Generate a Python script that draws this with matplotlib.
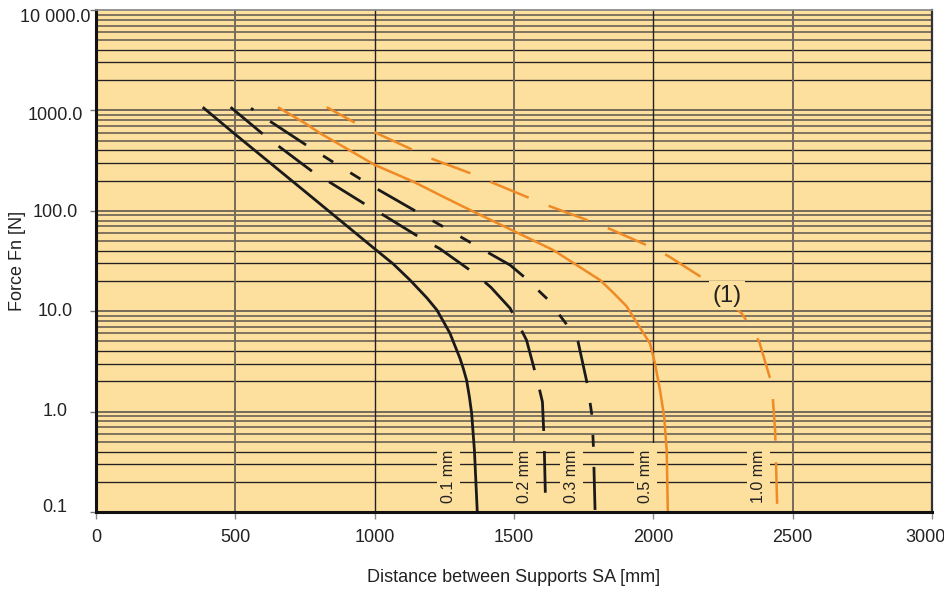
import matplotlib
matplotlib.use("Agg")
import matplotlib.pyplot as plt
from matplotlib.patches import Rectangle
from matplotlib.ticker import NullLocator
from matplotlib.transforms import blended_transform_factory, offset_copy

plt.rcParams['font.family'] = ['Liberation Sans', 'DejaVu Sans']
plt.rcParams['lines.scale_dashes'] = False

# Permissible force Fn [N] over support distance SA [mm], one curve per deflection
sa_01 = [383, 502, 752, 1001, 1067, 1127, 1187, 1223, 1252, 1270, 1306, 1318, 1330,
         1340, 1348, 1358, 1368, 1369]
fn_01 = [1076, 570, 154, 41.6, 29.5, 20.4, 13.6, 10.3, 7.43, 6.04, 3.40, 2.69, 2.05,
         1.40, 0.96, 0.41, 0.103, 0.1]

sa_02 = [483, 595, 654, 780, 842, 975, 1037, 1171, 1234, 1362, 1417, 1486, 1512,
         1545, 1585, 1602, 1608, 1614]
fn_02 = [1076, 593, 443, 242, 190, 112, 88.7, 52.4, 41.9, 23.4, 17.3, 10.7, 7.78,
         5.15, 1.98, 1.25, 0.523, 0.1]

sa_03 = [556, 621, 750, 848, 947, 1007, 1145, 1246, 1345, 1408, 1486, 1536, 1620,
         1689, 1730, 1763, 1780, 1785, 1791]
fn_03 = [1051, 791, 460, 309, 209, 166, 100, 69.4, 48.1, 38.2, 28.8, 22.0, 13.2,
         7.38, 4.95, 1.88, 0.906, 0.445, 0.1]

sa_05 = [653, 750, 804, 1001, 1139, 1246, 1342, 1504, 1641, 1809, 1856, 1904, 1950,
         1988, 2006, 2024, 2039, 2048, 2052]
fn_05 = [1076, 745, 593, 286, 195, 138, 102, 62, 40.6, 20.4, 15.3, 11.2, 7.0,
         4.77, 3.01, 1.63, 0.885, 0.41, 0.1]

sa_10 = [828, 929, 999, 1137, 1207, 1350, 1420, 1564, 1632, 1779, 1847, 1991, 2054,
         2189, 2317, 2347, 2380, 2425, 2437, 2445]
fn_10 = [1076, 755, 607, 404, 328, 233, 192, 131, 110, 77.8, 65.4, 43.6, 35.4,
         20.4, 9.51, 7.16, 4.96, 1.88, 0.652, 0.1]

curve_labels = ["0.1 mm", "0.2 mm", "0.3 mm", "0.5 mm", "1.0 mm"]
x_ticks = [0, 500, 1000, 1500, 2000, 2500, 3000]
y_ticks = [0.1, 1, 10, 100, 1000, 10000]
y_tick_labels = ["0.1", "1.0", "10.0", "100.0", "1000.0", "10 000.0"]
note_label = "(1)"

# label placement along the x axis (mm) and the note position
label_sa = [1264, 1538, 1706, 1972, 2377]
note_pos = (2264, 14.2)

BG = '#fddf9e'
ORANGE = '#ef8a25'
BLACK = '#1a1a1a'
GRID_GRAY = '#756b5a'
GRID_DARK = '#222222'
TEXT = '#222222'

fig = plt.figure(figsize=(9.45, 5.92), dpi=100)
ax = fig.add_axes([96 / 945, 80 / 592, 836 / 945, 502 / 592])
ax.set_facecolor(BG)
ax.set_yscale('log')
ax.set_xlim(0, 3000)
ax.set_ylim(0.1, 10000)

# horizontal grid: every decade subdivision
for k in range(-1, 4):
    for m in range(1, 10):
        v = m * 10.0 ** k
        if m == 1:
            ax.axhline(v, color=GRID_GRAY, lw=1.4, zorder=1)
        elif m in (2, 3, 4):
            ax.axhline(v, color=GRID_DARK, lw=0.95, zorder=1)
        else:
            ax.axhline(v, color=GRID_GRAY, lw=1.3, zorder=1)

# vertical grid
for i, xv in enumerate(x_ticks[1:-1]):
    if i % 2 == 0:
        ax.axvline(xv, color=GRID_GRAY, lw=1.4, zorder=1)
    else:
        ax.axvline(xv, color=GRID_DARK, lw=1.0, zorder=1)

# curves
ax.plot(sa_01, fn_01, color=BLACK, lw=2.0, solid_capstyle='butt',
        solid_joinstyle='round', zorder=3)
ax.plot(sa_02, fn_02, color=BLACK, lw=2.0, dashes=(30, 14.5), zorder=3)
ax.plot(sa_03, fn_03, color=BLACK, lw=2.0,
        linestyle=(75, (31, 14.5, 8.6, 14.5, 8.6, 14.5)), zorder=3)
ax.plot(sa_05, fn_05, color=ORANGE, lw=1.8, solid_capstyle='butt',
        solid_joinstyle='round', zorder=3)
ax.plot(sa_10, fn_10, color=ORANGE, lw=1.8, linestyle=(7, (30, 15.5)), zorder=3)

# curve labels on background boxes
box_w = 83
for xc, lab in zip(label_sa, curve_labels):
    ax.add_patch(Rectangle((xc - box_w / 2, 0.1), box_w, 0.484 - 0.1,
                           facecolor=BG, edgecolor='none', zorder=2))
    ax.text(xc, 0.122, lab, rotation=90, ha='center', va='bottom',
            fontsize=11.5, color=TEXT, zorder=4)

ax.text(note_pos[0], note_pos[1], note_label, ha='center', va='center',
        fontsize=17, color=TEXT, zorder=5,
        bbox=dict(facecolor=BG, edgecolor='none', pad=2.5))

# spines
for side in ('left', 'bottom'):
    ax.spines[side].set_linewidth(2.2)
    ax.spines[side].set_color('#111111')
ax.spines['top'].set_linewidth(1.3)
ax.spines['top'].set_color('#8a8a8a')
ax.spines['right'].set_linewidth(1.6)
ax.spines['right'].set_color('#333333')
for s in ax.spines.values():
    s.set_zorder(6)

# ticks
ax.set_xticks(x_ticks)
ax.set_xticklabels([''] * len(x_ticks))
ax.tick_params(axis='x', direction='out', length=5, width=1.0, color='#8a8a8a')
ax.set_yticks(y_ticks)
ax.set_yticklabels([''] * len(y_ticks))
ax.yaxis.set_minor_locator(NullLocator())
ax.tick_params(axis='y', direction='out', length=4.5, width=1.0, color='#777777')

# x tick labels (the last one nudged inward to stay on the canvas)
xtrans = blended_transform_factory(ax.transData, ax.transAxes)
for v in x_ticks:
    dx = -6 if v == x_ticks[-1] else 0
    t = offset_copy(xtrans, fig=fig, x=dx, y=-25, units='dots')
    ax.text(v, 0, str(v), transform=t, ha='center', va='center',
            fontsize=13, color=TEXT, clip_on=False)

# y tick labels, centred in the margin
ytrans = blended_transform_factory(ax.transAxes, ax.transData)
y_shift = [5, 0, 0, -2, -5, -8]
for v, lab, dy in zip(y_ticks, y_tick_labels, y_shift):
    t = offset_copy(ytrans, fig=fig, x=0, y=dy, units='dots')
    ax.text((55 - 96) / 836, v, lab, transform=t, ha='center', va='center',
            fontsize=13, color=TEXT, clip_on=False)

fig.text(514 / 945, 1 - 577 / 592, "Distance between Supports SA [mm]",
         ha='center', va='center', fontsize=13, color=TEXT)
fig.text(18 / 945, 1 - 261 / 592, "Force Fn [N]", rotation=90,
         ha='center', va='center', fontsize=13, color=TEXT)

fig.savefig("out.png", dpi=100, facecolor='white')
